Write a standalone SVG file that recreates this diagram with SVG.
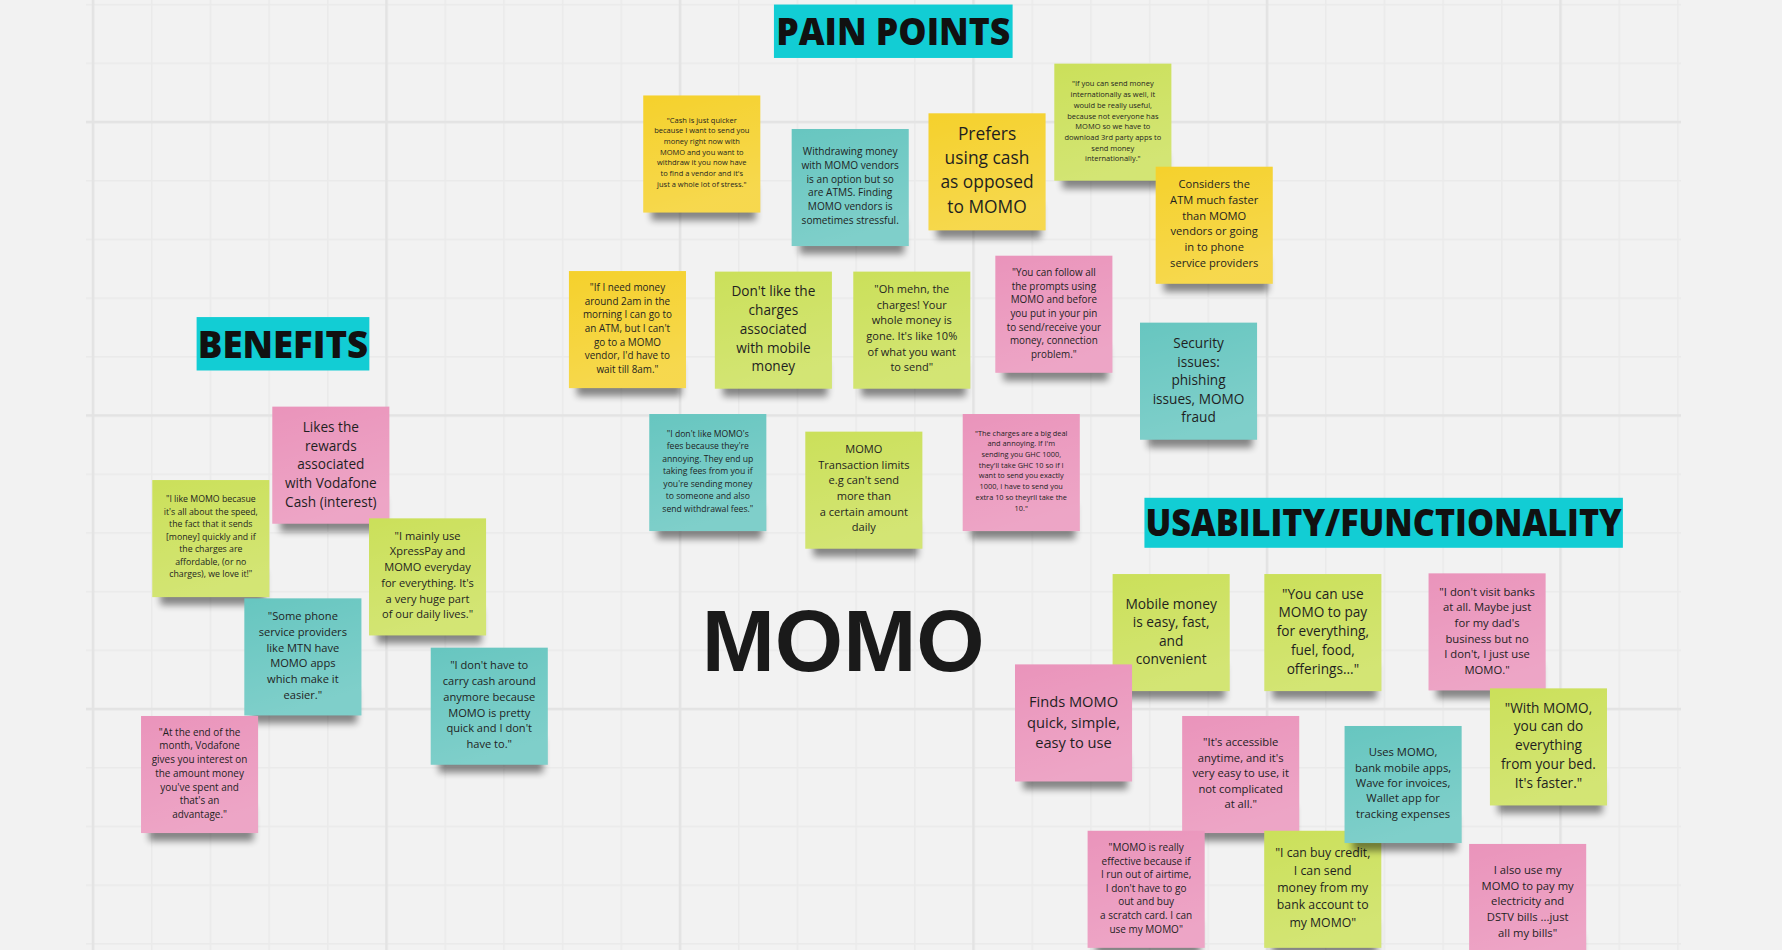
<svg xmlns="http://www.w3.org/2000/svg" width="1782" height="950" viewBox="0 0 1782 950">
<defs>
<style>
.bg{fill:#f2f2f2}
.yellow{fill:#f5d12c}
.green{fill:#cbe05a}
.teal{fill:#67c6c0}
.pink{fill:#ea94bb}
.sheen{fill:url(#sheen)}
.shadow{fill:#000;opacity:.45;filter:url(#blur)}
.note text{font-family:"Open Sans","Liberation Sans",sans-serif;fill:#1f1f1f;text-anchor:middle}
.hdr rect{fill:#12cdd4}
.hdr text{font-family:"Open Sans","Liberation Sans",sans-serif;font-weight:800;font-size:33px;fill:#111}
</style>
<linearGradient id="sheen" x1="0" y1="0" x2="0.3" y2="1">
<stop offset="0" stop-color="#fff" stop-opacity="0"/>
<stop offset="1" stop-color="#fff" stop-opacity="0.16"/>
</linearGradient>
<filter id="blur" x="-20%" y="-50%" width="140%" height="200%"><feGaussianBlur stdDeviation="3.2"/></filter>
<pattern id="minor" x="92.25" y="121.25" width="58.7" height="58.7" patternUnits="userSpaceOnUse"><path d="M0.75 0V58.7M0 0.75H58.7" stroke="#eaeaea" stroke-width="1.5" fill="none"/></pattern>
<pattern id="major" x="91.75" y="120.75" width="293.5" height="293.5" patternUnits="userSpaceOnUse"><path d="M1.25 0V293.5M0 1.25H293.5" stroke="#e3e3e3" stroke-width="2.5" fill="none"/></pattern>
<g id="base"><rect class="shadow" x="7" y="80" width="92" height="30"/></g>
</defs>
<rect class="bg" x="0" y="0" width="1782" height="950"/>
<g id="grid">
<rect x="86" y="0" width="1595" height="950" fill="url(#minor)"/>
<rect x="86" y="0" width="1595" height="950" fill="url(#major)"/>
</g>
<g id="connectors"></g>
<g transform="scale(1.13648)">
<g id="hdr-pain" class="hdr"><rect x="681" y="4" width="210" height="47"/><text x="683" y="39.6" textLength="206" lengthAdjust="spacingAndGlyphs">PAIN POINTS</text></g>
<g id="hdr-benefits" class="hdr"><rect x="173" y="279" width="152" height="47"/><text x="174" y="315.3" textLength="150" lengthAdjust="spacingAndGlyphs">BENEFITS</text></g>
<g id="hdr-usability" class="hdr"><rect x="1007" y="438" width="421" height="44"/><text x="1008" y="472" textLength="419" lengthAdjust="spacingAndGlyphs">USABILITY/FUNCTIONALITY</text></g>
<g id="title-momo"><text x="617.4" y="590.1" textLength="249" lengthAdjust="spacingAndGlyphs" style="font-family:'Liberation Sans',Arial,sans-serif;font-weight:700;font-size:77px;fill:#1a1a1a">MOMO</text></g>

<g id="n1" class="note" transform="translate(566,84)"><use href="#base"/><rect class="yellow" width="103" height="103"/><rect class="sheen" width="103" height="103"/>
<text style="font-size:6.6px"><tspan x="51.5" y="23.8">"Cash is just quicker</tspan><tspan x="51.5" y="33.2">because I want to send you</tspan><tspan x="51.5" y="42.6">money right now with</tspan><tspan x="51.5" y="52">MOMO and you want to</tspan><tspan x="51.5" y="61.4">withdraw it you now have</tspan><tspan x="51.5" y="70.8">to find a vendor and it's</tspan><tspan x="51.5" y="80.2">just a whole lot of stress."</tspan></text></g>

<g id="n2" class="note" transform="translate(696.6,113.5)"><use href="#base"/><rect class="teal" width="103" height="103"/><rect class="sheen" width="103" height="103"/>
<text style="font-size:8.9px"><tspan x="51.5" y="22.6">Withdrawing money</tspan><tspan x="51.5" y="34.9">with MOMO vendors</tspan><tspan x="51.5" y="47.1">is an option but so</tspan><tspan x="51.5" y="59.4">are ATMS. Finding</tspan><tspan x="51.5" y="71.6">MOMO vendors is</tspan><tspan x="51.5" y="83.9">sometimes stressful.</tspan></text></g>

<g id="n3" class="note" transform="translate(817,99.7)"><use href="#base"/><rect class="yellow" width="103" height="103"/><rect class="sheen" width="103" height="103"/>
<text style="font-size:15.3px"><tspan x="51.5" y="23.5">Prefers</tspan><tspan x="51.5" y="44.8">using cash</tspan><tspan x="51.5" y="66.1">as opposed</tspan><tspan x="51.5" y="87.4">to MOMO</tspan></text></g>

<g id="n4" class="note" transform="translate(927.7,56)"><use href="#base"/><rect class="green" width="103" height="103"/><rect class="sheen" width="103" height="103"/>
<text style="font-size:6.6px"><tspan x="51.5" y="20.1">"If you can send money</tspan><tspan x="51.5" y="29.5">internationally as well, it</tspan><tspan x="51.5" y="39">would be really useful,</tspan><tspan x="51.5" y="48.4">because not everyone has</tspan><tspan x="51.5" y="57.8">MOMO so we have to</tspan><tspan x="51.5" y="67.3">download 3rd party apps to</tspan><tspan x="51.5" y="76.7">send money</tspan><tspan x="51.5" y="86.1">internationally."</tspan></text></g>

<g id="n5" class="note" transform="translate(1016.9,146.7)"><use href="#base"/><rect class="yellow" width="103" height="103"/><rect class="sheen" width="103" height="103"/>
<text style="font-size:9.8px"><tspan x="51.5" y="18.7">Considers the</tspan><tspan x="51.5" y="32.6">ATM much faster</tspan><tspan x="51.5" y="46.5">than MOMO</tspan><tspan x="51.5" y="60.4">vendors or going</tspan><tspan x="51.5" y="74.3">in to phone</tspan><tspan x="51.5" y="88.2">service providers</tspan></text></g>

<g id="n6" class="note" transform="translate(500.6,238.5)"><use href="#base"/><rect class="yellow" width="103" height="103"/><rect class="sheen" width="103" height="103"/>
<text style="font-size:8.7px"><tspan x="51.5" y="17.5">"If I need money</tspan><tspan x="51.5" y="29.5">around 2am in the</tspan><tspan x="51.5" y="41.6">morning I can go to</tspan><tspan x="51.5" y="53.6">an ATM, but I can't</tspan><tspan x="51.5" y="65.6">go to a MOMO</tspan><tspan x="51.5" y="77.7">vendor, I'd have to</tspan><tspan x="51.5" y="89.7">wait till 8am."</tspan></text></g>

<g id="n7" class="note" transform="translate(629,239)"><use href="#base"/><rect class="green" width="103" height="103"/><rect class="sheen" width="103" height="103"/>
<text style="font-size:12px"><tspan x="51.5" y="21.7">Don't like the</tspan><tspan x="51.5" y="38.2">charges</tspan><tspan x="51.5" y="54.7">associated</tspan><tspan x="51.5" y="71.2">with mobile</tspan><tspan x="51.5" y="87.7">money</tspan></text></g>

<g id="n8" class="note" transform="translate(750.8,239)"><use href="#base"/><rect class="green" width="103" height="103"/><rect class="sheen" width="103" height="103"/>
<text style="font-size:9.7px"><tspan x="51.5" y="18.8">"Oh mehn, the</tspan><tspan x="51.5" y="32.6">charges! Your</tspan><tspan x="51.5" y="46.4">whole money is</tspan><tspan x="51.5" y="60.2">gone. It's like 10%</tspan><tspan x="51.5" y="74">of what you want</tspan><tspan x="51.5" y="87.8">to send"</tspan></text></g>

<g id="n9" class="note" transform="translate(875.8,225)"><use href="#base"/><rect class="pink" width="103" height="103"/><rect class="sheen" width="103" height="103"/>
<text style="font-size:8.7px"><tspan x="51.5" y="17.8">"You can follow all</tspan><tspan x="51.5" y="29.8">the prompts using</tspan><tspan x="51.5" y="41.9">MOMO and before</tspan><tspan x="51.5" y="53.9">you put in your pin</tspan><tspan x="51.5" y="65.9">to send/receive your</tspan><tspan x="51.5" y="78">money, connection</tspan><tspan x="51.5" y="90">problem."</tspan></text></g>

<g id="n10" class="note" transform="translate(1003.1,283.9)"><use href="#base"/><rect class="teal" width="103" height="103"/><rect class="sheen" width="103" height="103"/>
<text style="font-size:12px"><tspan x="51.5" y="22.2">Security</tspan><tspan x="51.5" y="38.6">issues:</tspan><tspan x="51.5" y="54.9">phishing</tspan><tspan x="51.5" y="71.3">issues, MOMO</tspan><tspan x="51.5" y="87.6">fraud</tspan></text></g>

<g id="n11" class="note" transform="translate(571.3,364.3)"><use href="#base"/><rect class="teal" width="103" height="103"/><rect class="sheen" width="103" height="103"/>
<text style="font-size:7.6px"><tspan x="51.5" y="20.1">"I don't like MOMO's</tspan><tspan x="51.5" y="31">fees because they're</tspan><tspan x="51.5" y="42">annoying. They end up</tspan><tspan x="51.5" y="52.9">taking fees from you if</tspan><tspan x="51.5" y="63.9">you're sending money</tspan><tspan x="51.5" y="74.8">to someone and also</tspan><tspan x="51.5" y="85.8">send withdrawal fees."</tspan></text></g>

<g id="n12" class="note" transform="translate(708.6,379.8)"><use href="#base"/><rect class="green" width="103" height="103"/><rect class="sheen" width="103" height="103"/>
<text style="font-size:9.75px"><tspan x="51.5" y="18.8">MOMO</tspan><tspan x="51.5" y="32.6">Transaction limits</tspan><tspan x="51.5" y="46.4">e.g can't send</tspan><tspan x="51.5" y="60.2">more than</tspan><tspan x="51.5" y="74">a certain amount</tspan><tspan x="51.5" y="87.8">daily</tspan></text></g>

<g id="n13" class="note" transform="translate(847.1,364.3)"><use href="#base"/><rect class="pink" width="103" height="103"/><rect class="sheen" width="103" height="103"/>
<text style="font-size:6.5px"><tspan x="51.5" y="19.1">"The charges are a big deal</tspan><tspan x="51.5" y="28.5">and annoying. If I'm</tspan><tspan x="51.5" y="37.9">sending you GHC 1000,</tspan><tspan x="51.5" y="47.3">they'll take GHC 10 so if I</tspan><tspan x="51.5" y="56.7">want to send you exactly</tspan><tspan x="51.5" y="66.1">1000, I have to send you</tspan><tspan x="51.5" y="75.5">extra 10 so theyrll take the</tspan><tspan x="51.5" y="84.9">10."</tspan></text></g>

<g id="n14" class="note" transform="translate(239.6,357.8)"><use href="#base"/><rect class="pink" width="103" height="103"/><rect class="sheen" width="103" height="103"/>
<text style="font-size:12px"><tspan x="51.5" y="22.2">Likes the</tspan><tspan x="51.5" y="38.7">rewards</tspan><tspan x="51.5" y="55.2">associated</tspan><tspan x="51.5" y="71.7">with Vodafone</tspan><tspan x="51.5" y="88.2">Cash (interest)</tspan></text></g>

<g id="n15" class="note" transform="translate(134,422.4)"><use href="#base"/><rect class="green" width="103" height="103"/><rect class="sheen" width="103" height="103"/>
<text style="font-size:7.7px"><tspan x="51.5" y="19.5">"I like MOMO becasue</tspan><tspan x="51.5" y="30.5">it's all about the speed,</tspan><tspan x="51.5" y="41.5">the fact that it sends</tspan><tspan x="51.5" y="52.5">[money] quickly and if</tspan><tspan x="51.5" y="63.5">the charges are</tspan><tspan x="51.5" y="74.5">affordable, (or no</tspan><tspan x="51.5" y="85.5">charges), we love it!"</tspan></text></g>

<g id="n16" class="note" transform="translate(324.7,456.1)"><use href="#base"/><rect class="green" width="103" height="103"/><rect class="sheen" width="103" height="103"/>
<text style="font-size:9.75px"><tspan x="51.5" y="18.7">"I mainly use</tspan><tspan x="51.5" y="32.6">XpressPay and</tspan><tspan x="51.5" y="46.4">MOMO everyday</tspan><tspan x="51.5" y="60.3">for everything. It's</tspan><tspan x="51.5" y="74.1">a very huge part</tspan><tspan x="51.5" y="88">of our daily lives."</tspan></text></g>

<g id="n17" class="note" transform="translate(215,526.5)"><use href="#base"/><rect class="teal" width="103" height="103"/><rect class="sheen" width="103" height="103"/>
<text style="font-size:9.8px"><tspan x="51.5" y="19.3">"Some phone</tspan><tspan x="51.5" y="33.1">service providers</tspan><tspan x="51.5" y="47">like MTN have</tspan><tspan x="51.5" y="60.8">MOMO apps</tspan><tspan x="51.5" y="74.7">which make it</tspan><tspan x="51.5" y="88.5">easier."</tspan></text></g>

<g id="n18" class="note" transform="translate(379,569.9)"><use href="#base"/><rect class="teal" width="103" height="103"/><rect class="sheen" width="103" height="103"/>
<text style="font-size:9.75px"><tspan x="51.5" y="19">"I don't have to</tspan><tspan x="51.5" y="32.9">carry cash around</tspan><tspan x="51.5" y="46.7">anymore because</tspan><tspan x="51.5" y="60.6">MOMO is pretty</tspan><tspan x="51.5" y="74.4">quick and I don't</tspan><tspan x="51.5" y="88.3">have to."</tspan></text></g>

<g id="n19" class="note" transform="translate(124.1,630)"><use href="#base"/><rect class="pink" width="103" height="103"/><rect class="sheen" width="103" height="103"/>
<text style="font-size:8.75px"><tspan x="51.5" y="17.3">"At the end of the</tspan><tspan x="51.5" y="29.4">month, Vodafone</tspan><tspan x="51.5" y="41.5">gives you interest on</tspan><tspan x="51.5" y="53.5">the amount money</tspan><tspan x="51.5" y="65.6">you've spent and</tspan><tspan x="51.5" y="77.7">that's an</tspan><tspan x="51.5" y="89.8">advantage."</tspan></text></g>

<g id="n20" class="note" transform="translate(979,505.1)"><use href="#base"/><rect class="green" width="103" height="103"/><rect class="sheen" width="103" height="103"/>
<text style="font-size:12.1px"><tspan x="51.5" y="30.4">Mobile money</tspan><tspan x="51.5" y="46.7">is easy, fast,</tspan><tspan x="51.5" y="63">and</tspan><tspan x="51.5" y="79.3">convenient</tspan></text></g>

<g id="n21" class="note" transform="translate(1112.5,505.1)"><use href="#base"/><rect class="green" width="103" height="103"/><rect class="sheen" width="103" height="103"/>
<text style="font-size:12px"><tspan x="51.5" y="21.6">"You can use</tspan><tspan x="51.5" y="38.1">MOMO to pay</tspan><tspan x="51.5" y="54.6">for everything,</tspan><tspan x="51.5" y="71.1">fuel, food,</tspan><tspan x="51.5" y="87.6">offerings..."</tspan></text></g>

<g id="n22" class="note" transform="translate(1257,504.5)"><use href="#base"/><rect class="pink" width="103" height="103"/><rect class="sheen" width="103" height="103"/>
<text style="font-size:9.9px"><tspan x="51.5" y="19.8">"I don't visit banks</tspan><tspan x="51.5" y="33.5">at all. Maybe just</tspan><tspan x="51.5" y="47.2">for my dad's</tspan><tspan x="51.5" y="60.9">business but no</tspan><tspan x="51.5" y="74.6">I don't, I just use</tspan><tspan x="51.5" y="88.3">MOMO."</tspan></text></g>

<g id="n23" class="note" transform="translate(893.1,584.6)"><use href="#base"/><rect class="pink" width="103" height="103"/><rect class="sheen" width="103" height="103"/>
<text style="font-size:12.9px"><tspan x="51.5" y="37.7">Finds MOMO</tspan><tspan x="51.5" y="55.6">quick, simple,</tspan><tspan x="51.5" y="73.5">easy to use</tspan></text></g>

<g id="n26" class="note" transform="translate(1311,605.7)"><use href="#base"/><rect class="green" width="103" height="103"/><rect class="sheen" width="103" height="103"/>
<text style="font-size:12px"><tspan x="51.5" y="21.3">"With MOMO,</tspan><tspan x="51.5" y="37.8">you can do</tspan><tspan x="51.5" y="54.3">everything</tspan><tspan x="51.5" y="70.8">from your bed.</tspan><tspan x="51.5" y="87.3">It's faster."</tspan></text></g>

<g id="n24" class="note" transform="translate(1040.2,630)"><use href="#base"/><rect class="pink" width="103" height="103"/><rect class="sheen" width="103" height="103"/>
<text style="font-size:9.9px"><tspan x="51.5" y="26.8">"It's accessible</tspan><tspan x="51.5" y="40.4">anytime, and it's</tspan><tspan x="51.5" y="54">very easy to use, it</tspan><tspan x="51.5" y="67.6">not complicated</tspan><tspan x="51.5" y="81.2">at all."</tspan></text></g>

<g id="n27" class="note" transform="translate(957,731)"><use href="#base"/><rect class="pink" width="103" height="103"/><rect class="sheen" width="103" height="103"/>
<text style="font-size:8.8px"><tspan x="51.5" y="17.8">"MOMO is really</tspan><tspan x="51.5" y="29.8">effective because if</tspan><tspan x="51.5" y="41.7">I run out of airtime,</tspan><tspan x="51.5" y="53.7">I don't have to go</tspan><tspan x="51.5" y="65.6">out and buy</tspan><tspan x="51.5" y="77.6">a scratch card. I can</tspan><tspan x="51.5" y="89.6">use my MOMO"</tspan></text></g>

<g id="n28" class="note" transform="translate(1112.4,731)"><use href="#base"/><rect class="green" width="103" height="103"/><rect class="sheen" width="103" height="103"/>
<text style="font-size:10.8px"><tspan x="51.5" y="23.2">"I can buy credit,</tspan><tspan x="51.5" y="38.5">I can send</tspan><tspan x="51.5" y="53.9">money from my</tspan><tspan x="51.5" y="69.2">bank account to</tspan><tspan x="51.5" y="84.5">my MOMO"</tspan></text></g>

<g id="n25" class="note" transform="translate(1183.1,638.8)"><use href="#base"/><rect class="teal" width="103" height="103"/><rect class="sheen" width="103" height="103"/>
<text style="font-size:9.9px"><tspan x="51.5" y="26.5">Uses MOMO,</tspan><tspan x="51.5" y="40.1">bank mobile apps,</tspan><tspan x="51.5" y="53.7">Wave for invoices,</tspan><tspan x="51.5" y="67.3">Wallet app for</tspan><tspan x="51.5" y="80.9">tracking expenses</tspan></text></g>

<g id="n29" class="note" transform="translate(1292.7,742.6)"><use href="#base"/><rect class="pink" width="103" height="103"/><rect class="sheen" width="103" height="103"/>
<text style="font-size:9.9px"><tspan x="51.5" y="26.5">I also use my</tspan><tspan x="51.5" y="40.3">MOMO to pay my</tspan><tspan x="51.5" y="54.1">electricity and</tspan><tspan x="51.5" y="67.9">DSTV bills ...just</tspan><tspan x="51.5" y="81.7">all my bills"</tspan></text></g>
</g>
</svg>
